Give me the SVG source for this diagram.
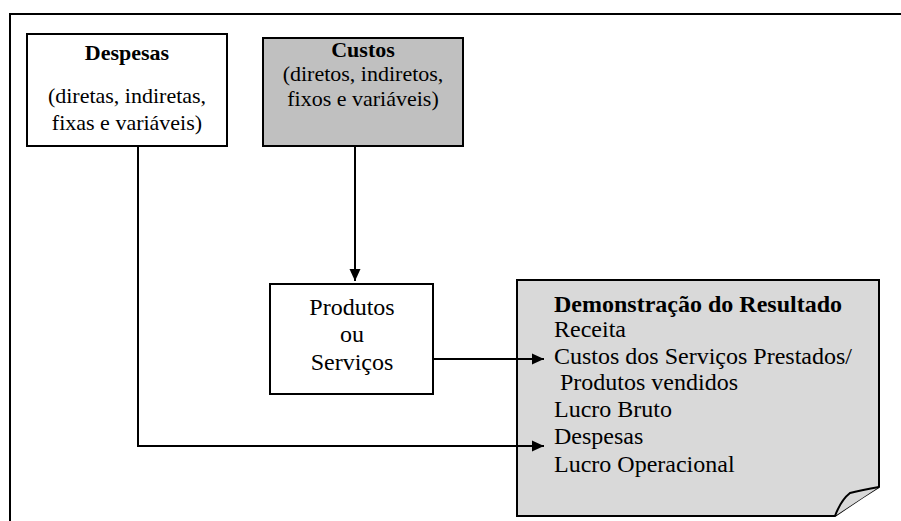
<svg xmlns="http://www.w3.org/2000/svg" width="901" height="521" viewBox="0 0 901 521">
<defs>
<style>
.box{stroke:#000;stroke-width:2;}
.t{font-family:"Liberation Serif","Times New Roman",serif;fill:#000;}
.b{font-weight:bold;}
.ln{fill:none;stroke:#000;stroke-width:2;}
</style>
<marker id="ah" viewBox="0 0 12 12" refX="12" refY="6" markerWidth="12" markerHeight="12" markerUnits="userSpaceOnUse" orient="auto">
<path d="M0,0.5 L12,6 L0,11.5 Z" fill="#000"/>
</marker>
</defs>
<rect width="901" height="521" fill="#fff"/>
<g id="frame">
<path class="ln" d="M10,521 V14 H901"/>
</g>
<g id="despesas">
<rect class="box" x="27" y="34" width="200" height="112" fill="#fff"/>
<text class="t b" x="127" y="60" font-size="22" text-anchor="middle">Despesas</text>
<text class="t" x="127" y="103" font-size="22" text-anchor="middle">(diretas, indiretas,</text>
<text class="t" x="127" y="130" font-size="22" text-anchor="middle">fixas e variáveis)</text>
</g>
<g id="custos">
<rect class="box" x="263" y="38" width="200" height="108" fill="#c0c0c0"/>
<text class="t b" x="363" y="57" font-size="22" text-anchor="middle">Custos</text>
<text class="t" x="363" y="81" font-size="22" text-anchor="middle">(diretos, indiretos,</text>
<text class="t" x="363" y="106" font-size="22" text-anchor="middle">fixos e variáveis)</text>
</g>
<g id="produtos">
<rect class="box" x="270" y="284" width="163" height="110" fill="#fff"/>
<text class="t" x="352" y="315" font-size="24" text-anchor="middle">Produtos</text>
<text class="t" x="352" y="342" font-size="24" text-anchor="middle">ou</text>
<text class="t" x="352" y="370" font-size="24" text-anchor="middle">Serviços</text>
</g>
<g id="demonstracao">
<path class="box" d="M517,280 H879 V487 Q858,500 835,516 H517 Z" fill="#d9d9d9"/>
<path class="box" d="M835,516 Q841,500 850,493 Q862,490 879,487" fill="#d9d9d9"/>
<text class="t b" x="554" y="312" font-size="24">Demonstração do Resultado</text>
<text class="t" x="554" y="337" font-size="24">Receita</text>
<text class="t" x="554" y="364" font-size="24">Custos dos Serviços Prestados/</text>
<text class="t" x="554" y="390" font-size="24" xml:space="preserve"> Produtos vendidos</text>
<text class="t" x="554" y="417" font-size="24">Lucro Bruto</text>
<text class="t" x="554" y="444" font-size="24">Despesas</text>
<text class="t" x="554" y="472" font-size="24">Lucro Operacional</text>
</g>
<g id="connectors">
<path class="ln" d="M355,146 V281" marker-end="url(#ah)"/>
<path class="ln" d="M433,359 H544" marker-end="url(#ah)"/>
<path class="ln" d="M138,146 V446 H544" marker-end="url(#ah)"/>
</g>
</svg>
